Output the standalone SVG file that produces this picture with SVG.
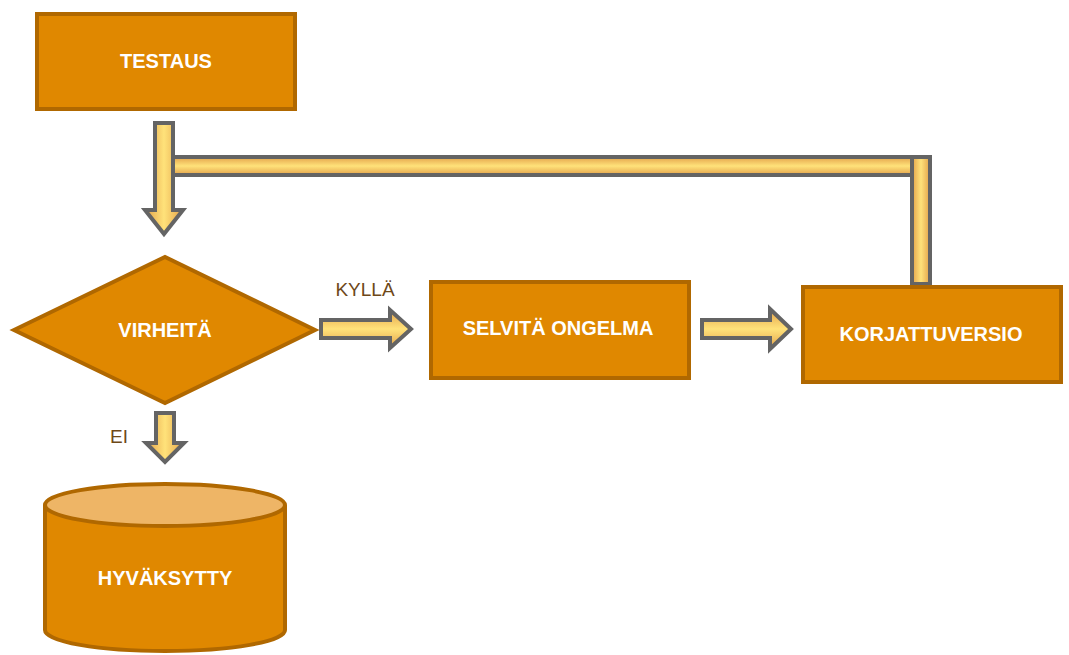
<svg xmlns="http://www.w3.org/2000/svg" width="1069" height="655" viewBox="0 0 1069 655">
  <defs>
    <linearGradient id="gv" x1="0" y1="0" x2="1" y2="0">
      <stop offset="0" stop-color="#e3a24a"/>
      <stop offset="0.5" stop-color="#ffe27a"/>
      <stop offset="1" stop-color="#e3a24a"/>
    </linearGradient>
    <linearGradient id="gh" x1="0" y1="0" x2="0" y2="1">
      <stop offset="0" stop-color="#e3a24a"/>
      <stop offset="0.5" stop-color="#ffe27a"/>
      <stop offset="1" stop-color="#e3a24a"/>
    </linearGradient>
    <style>
      .box { fill: #e08800; stroke: #b06800; stroke-width: 4; }
      .top { fill: #eeb566; stroke: #b06800; stroke-width: 4; }
      .lbl { font-family: "Liberation Sans", Arial, sans-serif; font-weight: bold; font-size: 20px; fill: #ffffff; text-anchor: middle; dominant-baseline: central; }
      .cap { font-family: "Liberation Sans", Arial, sans-serif; font-size: 19px; fill: #6e4818; text-anchor: middle; dominant-baseline: central; }
      .av { fill: url(#gv); stroke: #646464; stroke-width: 4; stroke-linejoin: miter; }
      .ah { fill: url(#gh); stroke: #646464; stroke-width: 4; stroke-linejoin: miter; }
    </style>
  </defs>

  <g id="connectors">
    <!-- TESTAUS down to decision -->
    <polygon class="av" points="155,123 173,123 173,210 183,210 164,234 145,210 155,210"/>
    <!-- return loop from KORJATTUVERSIO back to the main line -->
    <rect class="ah" x="173" y="157" width="745" height="18"/>
    <rect class="av" x="912" y="157" width="18" height="127"/>
    <!-- KYLLÄ branch -->
    <polygon class="ah" points="321,320 390,320 390,310 411,329 390,348 390,338 321,338"/>
    <!-- SELVITÄ ONGELMA to KORJATTUVERSIO -->
    <polygon class="ah" points="702,320 770,320 770,309 791,329 770,349 770,338 702,338"/>
    <!-- EI branch -->
    <polygon class="av" points="156,413 174,413 174,443 184,443 165,462 146,443 156,443"/>
    <text class="cap" x="365" y="289">KYLLÄ</text>
    <text class="cap" x="119" y="436">EI</text>
  </g>

  <g id="testaus">
    <rect class="box" x="37" y="14" width="258" height="95"/>
    <text class="lbl" x="166" y="61">TESTAUS</text>
  </g>

  <g id="virheita">
    <polygon class="box" points="14,330 165,257 315,330 165,403"/>
    <text class="lbl" x="165" y="330">VIRHEITÄ</text>
  </g>

  <g id="selvita">
    <rect class="box" x="431" y="282" width="258" height="96"/>
    <text class="lbl" x="558" y="328">SELVITÄ ONGELMA</text>
  </g>

  <g id="korjattuversio">
    <rect class="box" x="803" y="287" width="258" height="95"/>
    <text class="lbl" x="931" y="334">KORJATTUVERSIO</text>
  </g>

  <g id="hyvaksytty">
    <path class="box" d="M45,505 L45,630 A120,21 0 0 0 285,630 L285,505"/>
    <ellipse class="top" cx="165" cy="505" rx="120" ry="21"/>
    <text class="lbl" x="165" y="578">HYVÄKSYTTY</text>
  </g>
</svg>
